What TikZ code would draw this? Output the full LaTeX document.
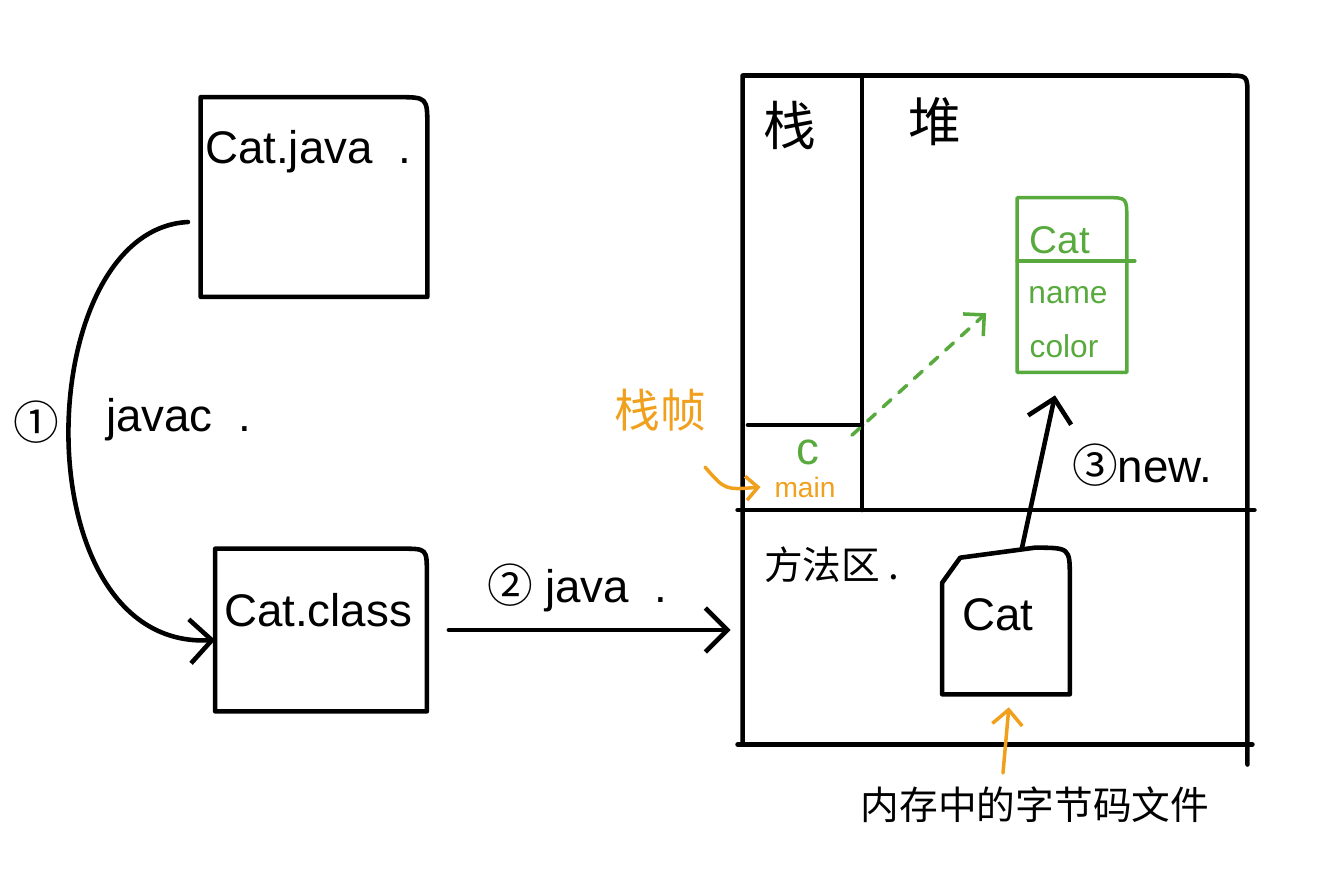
\documentclass[tikz,border=0pt]{standalone}
\usepackage{fontspec}
\setmainfont{Liberation Sans}
\newfontfamily\cjk{Noto Sans CJK SC}
\usetikzlibrary{arrows.meta}
\definecolor{objgreen}{RGB}{88,170,62}
\definecolor{frameorange}{RGB}{240,160,28}
\tikzset{
  >={Straight Barb[length=2.2mm,width=4.4mm]},
  area/.style={inner sep=0pt,draw=none},
  hand/.style={font=\fontsize{13}{13}\selectfont},
  zh/.style={font=\cjk\fontsize{11}{11}\selectfont},
}
\begin{document}
\begin{tikzpicture}[x=0.01cm,y=-0.01cm,line width=1.3pt,line join=round,line cap=round]
\useasboundingbox (0,0) rectangle (1324,878);
% source and class files
\node[area,minimum width=2.22cm,minimum height=1.95cm] (java) at (314,197) {};
\node[area,minimum width=2.07cm,minimum height=1.58cm] (cls) at (321,630) {};
\draw (java.south west) -- (java.north west) -- ([xshift=-0.3cm]java.north east)
  .. controls (java.north east) .. ([yshift=-0.3cm]java.north east) -- (java.south east) -- cycle;
\draw (cls.south west) -- (cls.north west) -- ([xshift=-0.25cm]cls.north east)
  .. controls (cls.north east) .. ([yshift=-0.25cm]cls.north east) -- (cls.south east) -- cycle;
\node[hand] (javalbl) at (308,152) {Cat.java\ \ .};
\node[hand] (clslbl) at (318,610) {Cat.class};
% memory
\node[area,minimum width=5.0cm,minimum height=6.64cm] (mem) at (995,410) {};
\coordinate (split) at (862,510);
\coordinate (frame) at (748,425);
\draw (mem.south west) -- (mem.north west) -- ([xshift=-0.2cm]mem.north east)
  .. controls (mem.north east) .. ([yshift=-0.2cm]mem.north east) -- ([yshift=-0.2cm]mem.south east);
\draw ([xshift=-0.05cm]mem.south west) -- ([xshift=0.05cm]mem.south east);
\draw ([xshift=-0.05cm]mem.west |- split) -- ([xshift=0.07cm]mem.east |- split);
\draw (split |- mem.north) -- (split);
\draw (frame) -- (split |- frame);
\node[zh,font=\cjk\fontsize{15}{15}\selectfont] (zhan) at (790,125) {栈};
\node[zh,font=\cjk\fontsize{15}{15}\selectfont] (dui) at (935,122) {堆};
\node[zh] (fangfa) at (832,565) {方法区\ .};
% heap object
\node[area,minimum width=1.05cm,minimum height=1.7cm] (obj) at (1072,285) {};
\draw[objgreen,line width=1pt] (obj.south west) -- (obj.north west) -- ([xshift=-0.2cm]obj.north east)
  .. controls (obj.north east) .. ([yshift=-0.22cm]obj.north east) -- (obj.south east) -- cycle;
\draw[objgreen,line width=1pt] (obj.west |- 0,261) -- ([xshift=0.08cm]obj.east |- 0,261);
\node[objgreen,font=\fontsize{11}{11}\selectfont] (objname) at (1060,240) {Cat};
\node[objgreen,font=\fontsize{9}{9}\selectfont] (fname) at (1068,295) {name};
\node[objgreen,font=\fontsize{9}{9}\selectfont] (fcolor) at (1064,346) {color};
% stack frame
\node[objgreen,font=\fontsize{13}{13}\selectfont] (c) at (808,452) {c};
\node[frameorange,font=\fontsize{8}{8}\selectfont] (main) at (805,487) {main};
\node[zh,frameorange,font=\cjk\fontsize{13}{13}\selectfont] (zhen) at (660,410) {栈帧};
\draw[->,objgreen,line width=1pt,dashed,shorten <=0.25cm,shorten >=0.42cm,
  >={Straight Barb[length=1.5mm,width=3mm]}] (c.east) -- (obj.west);
\draw[->,frameorange,line width=1pt,>={Straight Barb[length=1.2mm,width=2.4mm]}]
  ([xshift=0.45cm,yshift=-0.22cm]zhen.south) .. controls (725,490) .. (main.west);
% class in method area
\node[area,minimum width=1.23cm,minimum height=1.42cm] (mcat) at (1006,621) {};
\draw (mcat.south west) -- ([yshift=-0.35cm]mcat.north west) -- ([xshift=0.18cm,yshift=-0.1cm]mcat.north west)
  -- ([xshift=-0.35cm]mcat.north east) .. controls (mcat.north east) .. ([yshift=-0.3cm]mcat.north east)
  -- (mcat.south east) -- cycle;
\node[hand] (mcatlbl) at (998,615) {Cat};
\node[zh] (byte) at (1035,805) {内存中的字节码文件};
% arrows
\coordinate (jstart) at (188,222);
\draw[->] (jstart) .. controls (30,230) and (20,650) .. ([yshift=-0.1cm]cls.west);
\node[hand,font=\cjk\fontsize{13}{13}\selectfont] (one) at (36,422) {①};
\node[hand,anchor=west] (javac) at (92,420) {javac\ \ .};
\draw[->,shorten <=0.22cm,shorten >=0.12cm] (cls.east) -- (mem.west |- cls.east);
\node[hand,anchor=west] (javacmd) at (473,588) {{\cjk ②}\ java\ \ .};
\draw[->] ([xshift=0.16cm]mcat.north) -- ([xshift=-0.17cm,yshift=-0.23cm]obj.south);
\node[hand,anchor=west] (newlbl) at (1058,465) {{\cjk ③}new.};
\draw[->,frameorange,line width=1pt,shorten >=0.13cm,>={Straight Barb[length=1.5mm,width=3mm]}]
  ([xshift=-0.32cm]byte.north) -- ([xshift=0.04cm]mcat.south);
\end{tikzpicture}
\end{document}
